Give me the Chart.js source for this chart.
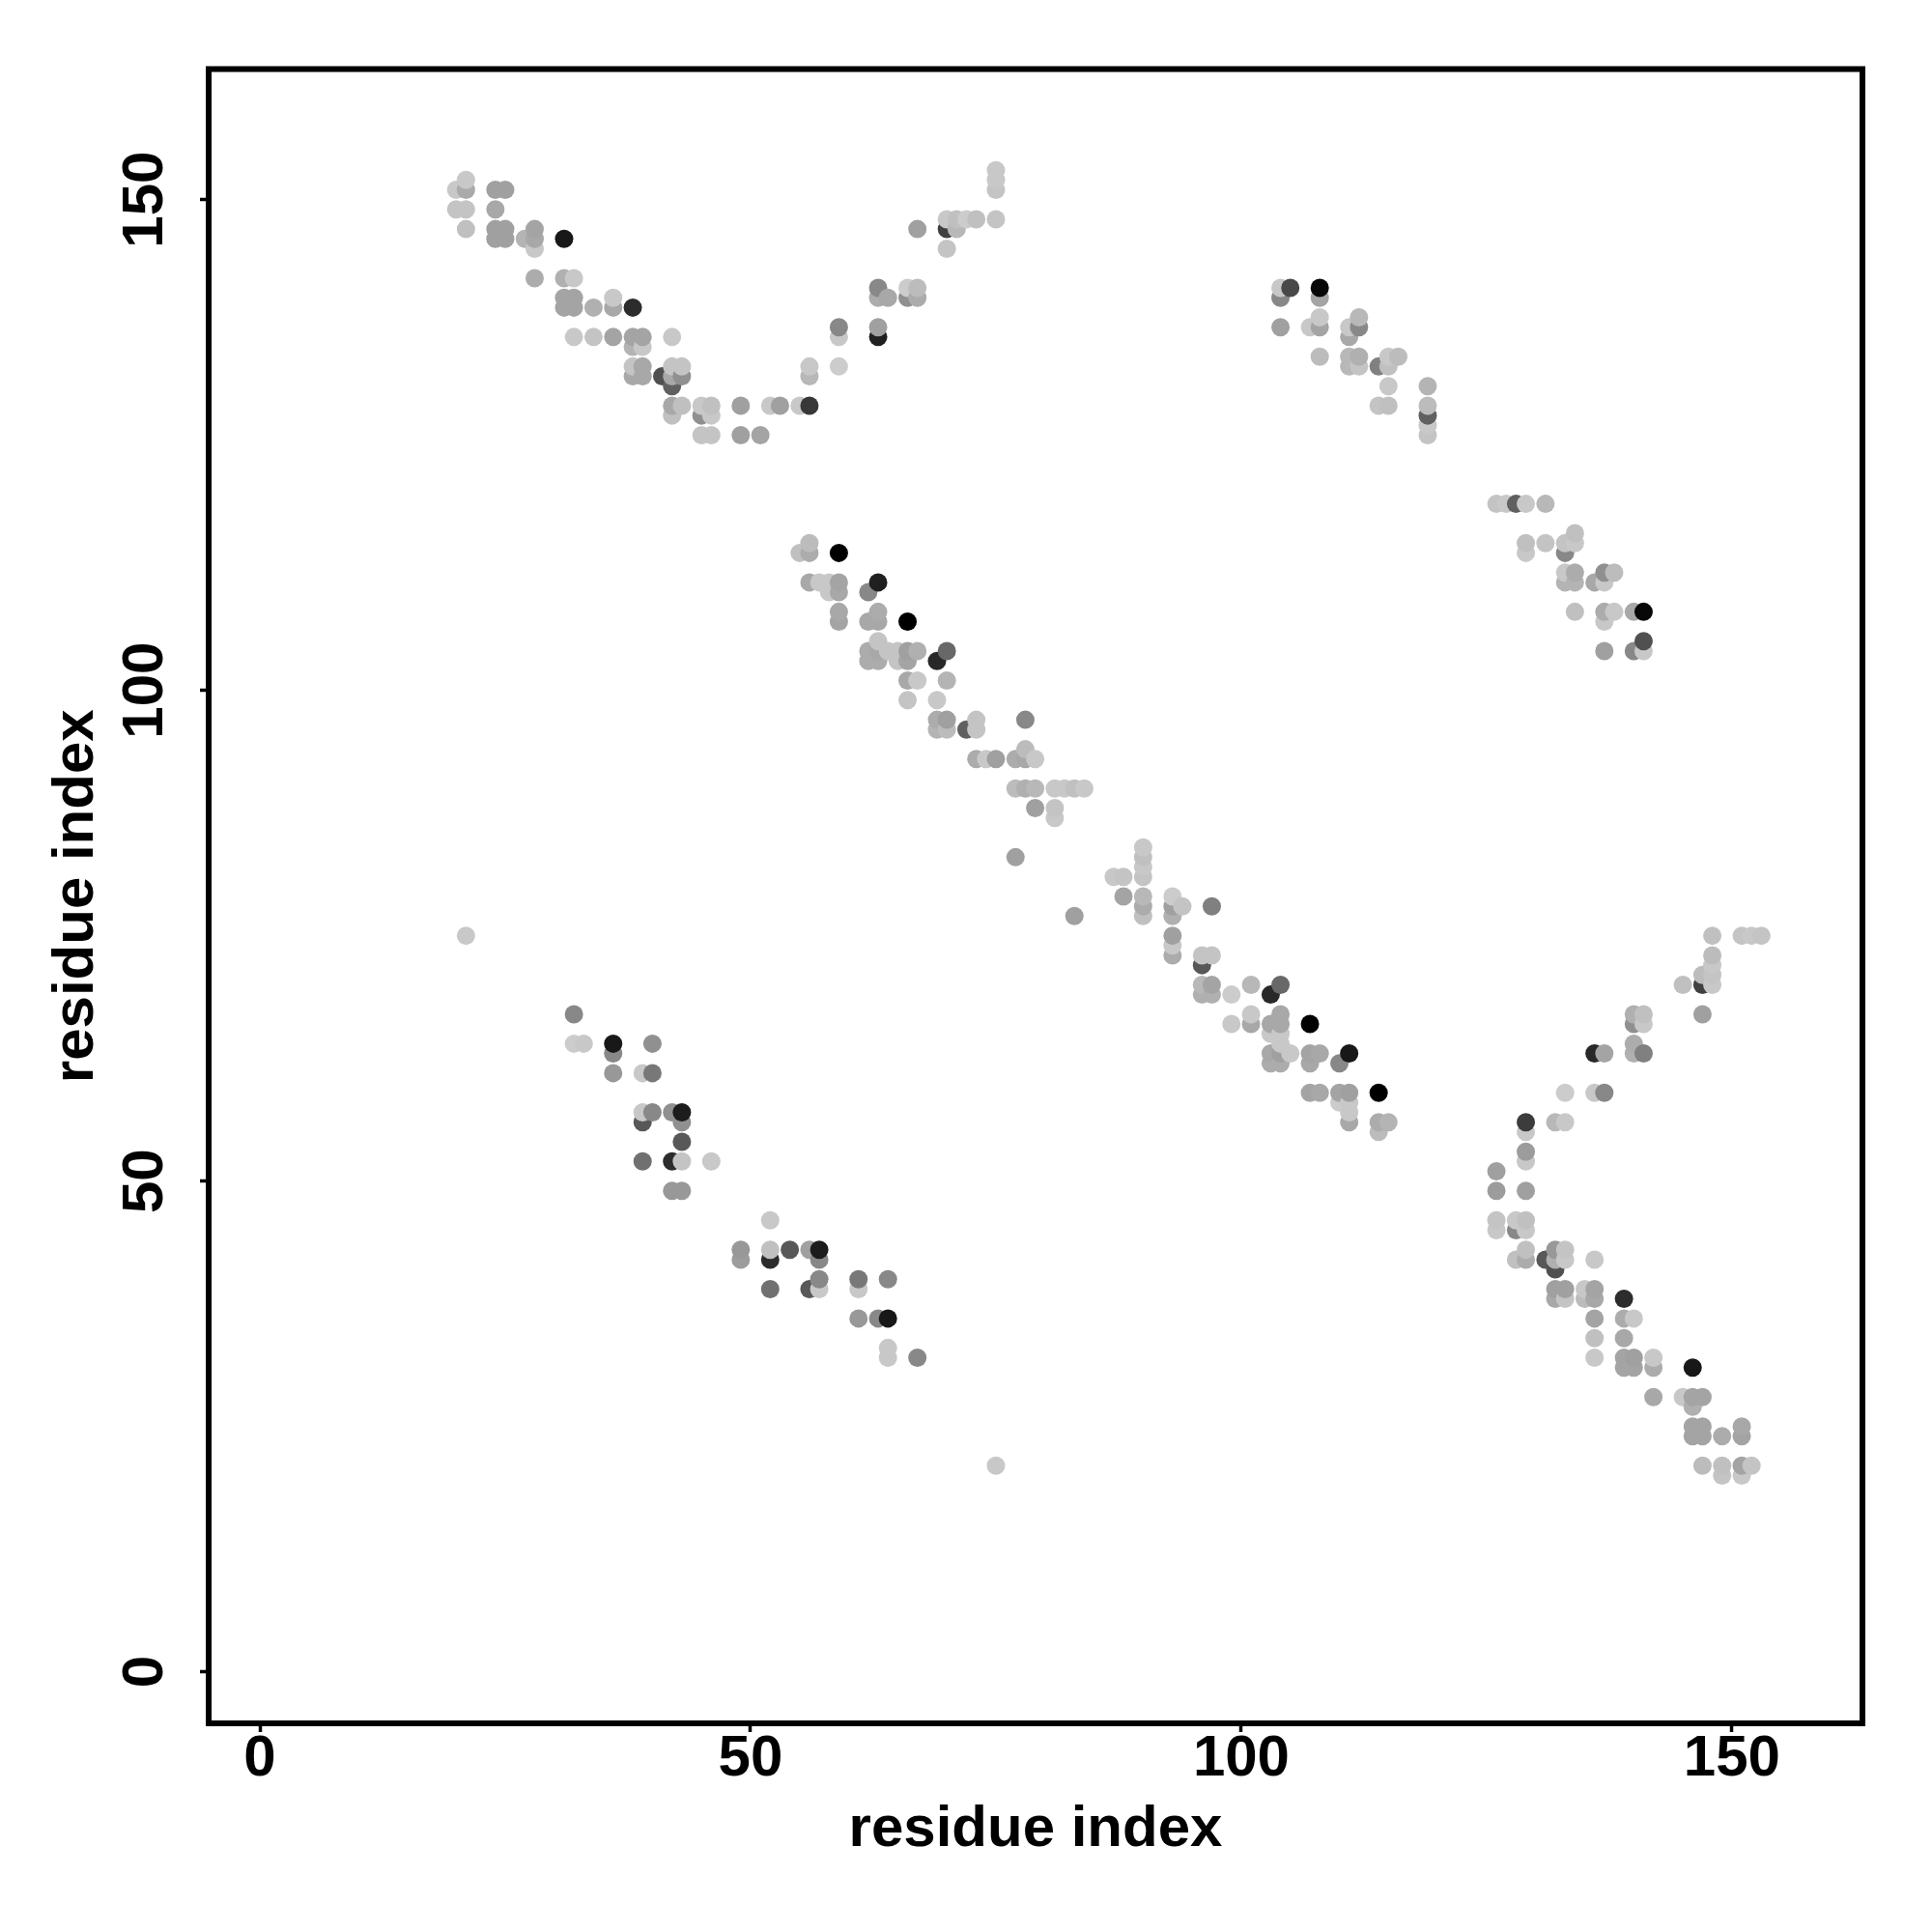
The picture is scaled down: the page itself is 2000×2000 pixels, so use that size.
<!DOCTYPE html>
<html>
<head>
<meta charset="utf-8">
<title>residue contacts</title>
<script src="https://cdn.jsdelivr.net/npm/chart.js@4/dist/chart.umd.min.js"></script>
<style>
  html, body { margin: 0; padding: 0; background: #fff; }
  canvas { display: block; }
</style>
</head>
<body>
<canvas id="contactChart" width="2000" height="2000"></canvas>
<script>
var tickValues = [0, 50, 100, 150];

// residue pairs, one line per cluster; shade is the grey level of the dot
var residueI = [
  20,21,21,20,21,24,25,24,21,24,25,24,25,27,28,28,28,31,
  28,31,32,31,32,31,32,34,36,36,38,
  32,34,36,38,39,38,39,42,
  38,39,38,39,41,42,43,42,43,42,
  42,43,42,45,46,45,46,45,46,49,49,51,52,53,55,56,
  56,56,59,59,59,63,63,
  63,63,64,66,67,66,67,67,
  70,71,70,71,72,73,75,70,75,75,75,
  55,56,56,59,56,57,58,58,59,59,59,59,63,62,
  63,62,63,66,63,62,63,64,65,62,63,65,66,67,66,
  69,70,66,67,70,66,69,69,70,69,70,72,73,73,78,
  73,74,75,77,78,78,79,77,78,79,81,82,83,84,79,81,81,77,
  83,87,88,88,90,90,90,90,90,90,90,93,94,93,93,97,
  93,93,93,96,97,96,96,97,96,97,99,101,103,104,
  99,101,101,103,104,104,103,104,104,105,103,104,103,104,107,
  107,108,107,111,110,107,108,110,111,110,111,111,111,114,114,115,114,
  104,105,104,108,108,104,107,108,108,111,112,112,111,108,111,112,111,112,
  114,115,116,115,115,119,114,115,119,119,119,119,
  126,127,128,129,131,129,129,131,133,134,134,133,133,134,133,134,
  136,137,138,137,134,137,138,137,140,141,137,140,141,141,
  32,32,33,36,36,36,40,39,40,39,40,39,42,43,43,43,39,42,43,46,42,43,
  52,49,49,52,52,54,56,57,57,52,56,57,57,61,61,64,61,63,64,64,64,67,
  148,151,152,153,148,148,148,147,147,148,145,147,140,141,140,141,140,140,141,
  136,137,133,136,137,129,129,132,133,129,129,126,126,129,126,126,128,129,128,129,
  128,129,129,131,132,133,132,133,132,136,
  132,133,132,133,135,136,135,136,139,136,139,140,136,139,
  136,139,140,139,140,142,142,146,142,145,146,147,146,
  146,147,146,147,149,151,151,147,149,149,151,152,151,
  21,75
];
var residueJ = [
  151,152,151,149,149,151,151,149,147,147,147,146,146,146,147,146,145,146,
  142,142,142,140,140,139,139,139,140,139,139,
  136,136,136,136,136,135,135,136,
  133,133,132,132,132,133,133,132,132,131,
  129,129,128,129,129,128,128,126,126,129,126,126,129,129,129,129,
  133,132,133,136,137,137,136,
  141,140,140,141,141,140,140,147,
  147,147,148,148,148,148,148,145,153,152,151,
  114,115,114,114,111,111,111,110,111,110,108,107,111,110,
  108,107,107,107,105,104,104,104,104,103,103,103,104,104,103,
  103,104,101,101,101,99,99,97,97,96,96,96,97,96,97,
  93,93,93,93,94,93,93,90,90,90,90,90,90,90,88,88,87,83,
  77,81,81,79,84,83,82,81,79,78,77,79,78,78,77,78,
  75,74,73,73,73,72,70,70,69,69,69,70,69,70,
  66,67,66,66,67,66,65,65,64,63,63,63,62,62,66,
  63,63,62,63,62,59,59,59,59,58,58,57,56,59,56,56,55,
  141,141,140,141,140,137,137,138,137,137,138,137,136,134,134,134,133,133,
  133,134,134,133,131,131,129,129,129,128,127,126,
  119,119,119,119,119,115,114,115,115,116,115,114,112,112,111,111,
  111,112,112,111,108,108,108,107,108,108,104,104,105,104,
  67,64,64,64,63,61,64,61,61,57,57,56,57,57,56,54,52,52,52,52,49,49,
  46,43,42,43,42,43,43,43,42,39,39,40,39,40,39,40,36,36,36,33,32,32,
  75,75,75,75,73,72,71,71,70,70,70,67,67,67,66,66,64,63,63,
  63,63,59,59,59,56,55,56,56,53,52,51,49,49,46,45,46,46,45,45,
  42,43,42,42,43,43,42,42,41,42,
  39,39,38,38,39,39,38,38,38,36,36,36,34,34,
  32,32,32,31,31,32,31,31,28,28,28,28,27,
  25,25,24,24,24,25,24,21,21,20,21,21,20,
  75,21
];
var shade = [
  "c8","c8","aa","c4","c4","a0","a0","a8","c0","a0","a0","a0","a0","b4","a4","a8","c8","18",
  "ac","b0","c8","a4","a4","a4","a4","b0","c8","a8","2c",
  "c8","c4","a4","a4","a4","b4","c8","c8",
  "c4","a8","a8","a8","50","c4","c4","a8","90","60",
  "a8","c0","c0","c8","c0","90","c8","c4","c4","a0","a0","a4","c8","a0","c8","38",
  "c8","b8","cc","c8","88","a0","20",
  "88","ac","a8","cc","bc","90","ac","a0",
  "40","b8","c8","c0","cc","c0","c4","c4","c8","c8","c4",
  "c0","bc","ac","00","a8","c8","c8","c8","a4","a8","a8","a4","20","88",
  "ac","a8","a8","00","c4","ac","a8","c4","c4","ac","ac","c4","a0","b0","a4",
  "28","68","a8","c8","b4","c4","c8","ac","a0","b4","bc","60","c4","c4","88",
  "ac","c8","a0","ac","bc","a8","c8","bc","b0","b8","c8","c8","c0","c8","a0","c4","c8","a0",
  "a0","c8","c4","a4","c8","c0","c8","c4","b8","ac","c0","cc","c4","a0","b0","80",
  "a0","c8","ac","c4","c4","58","b8","a4","b0","b0","cc","b8","28","68",
  "c8","c8","a8","a8","a8","a8","c8","c8","c8","c8","a8","a0","ac","ac","00",
  "a4","a8","a8","18","88","a4","a8","a4","a0","cc","c8","c8","a8","00","ac","b4","bc",
  "c8","48","88","08","a4","a0","c8","c8","a4","c8","b8","88","a8","bc","b8","b0","b8","c4",
  "80","c8","bc","c0","c8","b4","c4","c0","bc","60","c8","c4",
  "c4","c8","60","c8","b8","c0","c8","c4","c4","c0","c8","88","c8","ac","b4","b4",
  "a8","90","bc","c8","c0","ac","c8","c8","a8","08","a0","88","50","c8",
  "88","cc","c8","18","88","98","90","c8","78","c8","88","58","90","1c","90","58","70","2c","c4","c8","98","98",
  "c8","98","9c","c0","2c","58","a0","1c","88","70","58","88","c8","78","c8","88","98","88","18","c8","c8","88",
  "c0","c4","c8","c4","bc","c8","c4","bc","40","c8","c0","a0","b0","c0","90","c8","ac","b0","80",
  "28","a4","cc","c8","88","3c","c8","b8","c8","9c","c8","a0","9c","a0","c4","c8","c8","c0","88","c8",
  "c0","c0","ac","58","98","c4","b0","c8","50","c8",
  "a0","a0","a8","c4","c8","a4","bc","a8","2c","a4","ac","c8","c0","a8",
  "c8","a4","a0","a4","a4","c8","ac","18","a8","c8","a4","a4","b0",
  "a4","a4","a4","a4","ac","a8","a4","bc","c0","c4","a4","c4","c8",
  "c8","c8"
];

// later residues sit on top, so keep the points ordered by i then j
var points = residueI.map(function (i, n) {
  return { x: i, y: residueJ[n], shade: shade[n] };
});
points.sort(function (a, b) {
  return a.x - b.x || a.y - b.y;
});

var axisFont = { family: "'Liberation Sans', Arial, sans-serif", size: 60, weight: "bold" };

function useTickValues(scale) {
  scale.ticks = tickValues.map(function (v) {
    return { value: v };
  });
}

var boxFrame = {
  id: "boxFrame",
  afterDatasetsDraw: function (chart) {
    var area = chart.chartArea;
    var c = chart.ctx;
    c.save();
    c.strokeStyle = "#000";
    c.lineWidth = 6;
    c.strokeRect(area.left, area.top, area.right - area.left, area.bottom - area.top);
    c.restore();
  },
};

var gridStyle = {
  drawOnChartArea: false,
  drawTicks: true,
  tickLength: 9,
  tickWidth: 3.5,
  tickColor: "#000",
};

new Chart(document.getElementById("contactChart").getContext("2d"), {
  type: "scatter",
  plugins: [boxFrame],
  data: {
    datasets: [
      {
        label: "contacts",
        data: points,
        pointRadius: 9.5,
        pointBorderWidth: 0,
        pointBackgroundColor: points.map(function (p) {
          return "#" + p.shade + p.shade + p.shade;
        }),
      },
    ],
  },
  options: {
    responsive: false,
    animation: false,
    layout: { padding: { top: 71.5, right: 72, left: 0, bottom: 0 } },
    plugins: { legend: { display: false }, tooltip: { enabled: false } },
    scales: {
      x: {
        type: "linear",
        min: -5.22,
        max: 163.3,
        afterBuildTicks: useTickValues,
        afterFit: function (scale) {
          scale.height = 216;
        },
        grid: gridStyle,
        border: { display: false },
        ticks: { color: "#000", font: axisFont, padding: -8, maxRotation: 0, minRotation: 0 },
        title: {
          display: true,
          text: "residue index",
          color: "#000",
          font: axisFont,
          padding: { top: 0, bottom: 70 },
        },
      },
      y: {
        type: "linear",
        min: -5.25,
        max: 163.3,
        afterBuildTicks: useTickValues,
        afterFit: function (scale) {
          scale.width = 216;
        },
        grid: gridStyle,
        border: { display: false },
        ticks: {
          color: "#000",
          font: axisFont,
          padding: 5,
          minRotation: 90,
          maxRotation: 90,
          crossAlign: "center",
        },
        title: {
          display: true,
          text: "residue index",
          color: "#000",
          font: axisFont,
          padding: { top: 43, bottom: 0 },
        },
      },
    },
  },
});
</script>
</body>
</html>
